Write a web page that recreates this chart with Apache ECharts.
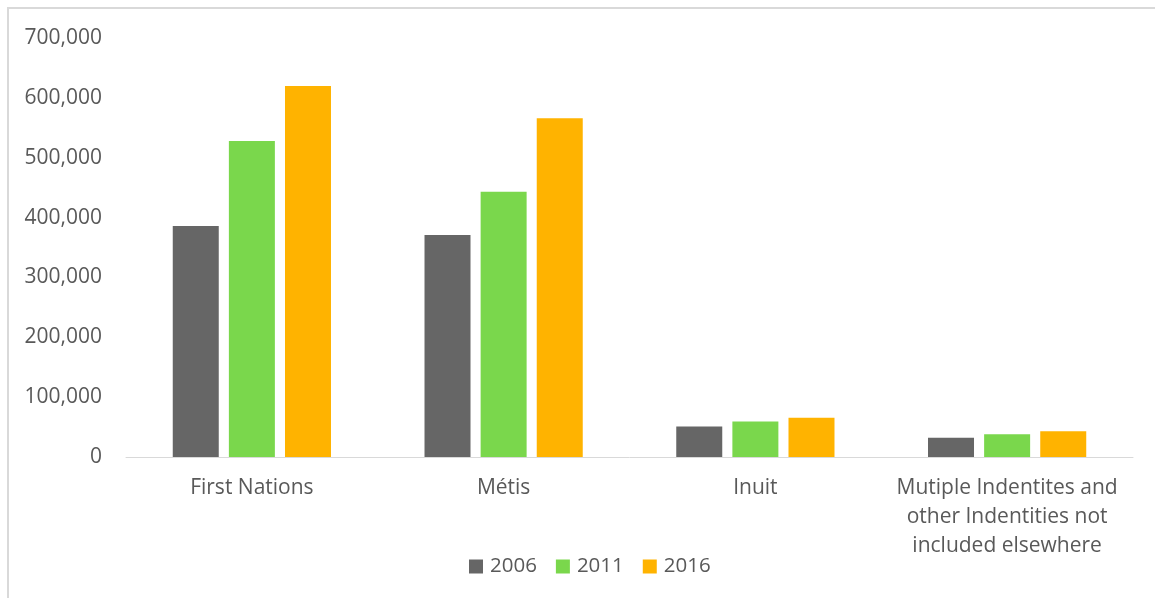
<!DOCTYPE html>
<html>
<head>
<meta charset="utf-8">
<title>Aboriginal identity population</title>
<script src="https://cdn.jsdelivr.net/npm/echarts@6/dist/echarts.min.js"></script>
<style>
  html, body {
    margin: 0;
    padding: 0;
    background: #fff;
    overflow: hidden;
  }
  .chart-box {
    width: 1155px;
    height: 598px;
  }
  .frame {
    position: absolute;
    left: 7px;
    top: 7px;
    width: 1200px;
    height: 700px;
    border-left: 2px solid #d9d9d9;
    border-top: 2px solid #d9d9d9;
    pointer-events: none;
  }
</style>
</head>
<body>
<div id="chartBox" class="chart-box"></div>
<div class="frame"></div>
<script>
// categories (tick labels, already wrapped like the original)
const categories = [
  'First Nations',
  'Métis',
  'Inuit',
  'Mutiple Indentites and\nother Indentities not\nincluded elsewhere'
];
const values2006 = [386000, 371000, 51000, 32000];
const values2011 = [528000, 443000, 59500, 38000];
const values2016 = [620000, 566000, 65500, 43000];

const textColor = '#595959';
const fontFamily = '"Open Sans", "Noto Sans", sans-serif';

var myChart = echarts.init(document.getElementById('chartBox'));

const barSeries = (name, data, color) => {
  return {
    name: name,
    type: 'bar',
    data: data,
    barWidth: 46,
    barGap: '22%',
    itemStyle: {
      color: color
    },
    emphasis: { disabled: true }
  };
};

const getOptions = () => {
  return {
    animation: false,
    textStyle: {
      fontFamily: fontFamily
    },
    grid: {
      left: 126,
      right: 22,
      top: 38,
      bottom: 141,
      containLabel: false
    },
    legend: {
      left: 464,
      top: 551,
      itemWidth: 14,
      itemHeight: 14,
      itemGap: 19,
      icon: 'rect',
      textStyle: {
        color: textColor,
        fontSize: 20.5,
        fontFamily: fontFamily,
        padding: [0, 0, 0, 2]
      },
      data: ['2006', '2011', '2016']
    },
    xAxis: {
      type: 'category',
      data: categories,
      axisLine: {
        lineStyle: { color: '#d9d9d9', width: 1 }
      },
      axisTick: { show: false },
      axisLabel: {
        color: textColor,
        fontSize: 21,
        lineHeight: 29,
        margin: 17,
        interval: 0,
        fontFamily: fontFamily
      }
    },
    yAxis: {
      type: 'value',
      min: 0,
      max: 700000,
      interval: 100000,
      splitLine: { show: false },
      axisLine: { show: false },
      axisTick: { show: false },
      axisLabel: {
        color: textColor,
        fontSize: 21,
        margin: 24,
        fontFamily: fontFamily,
        formatter: function (val) {
          return val.toLocaleString('en-US');
        }
      }
    },
    series: [
      barSeries('2006', values2006, '#666666'),
      barSeries('2011', values2011, '#7ad74c'),
      barSeries('2016', values2016, '#ffb300')
    ]
  };
};

myChart.setOption(getOptions());
</script>
</body>
</html>
